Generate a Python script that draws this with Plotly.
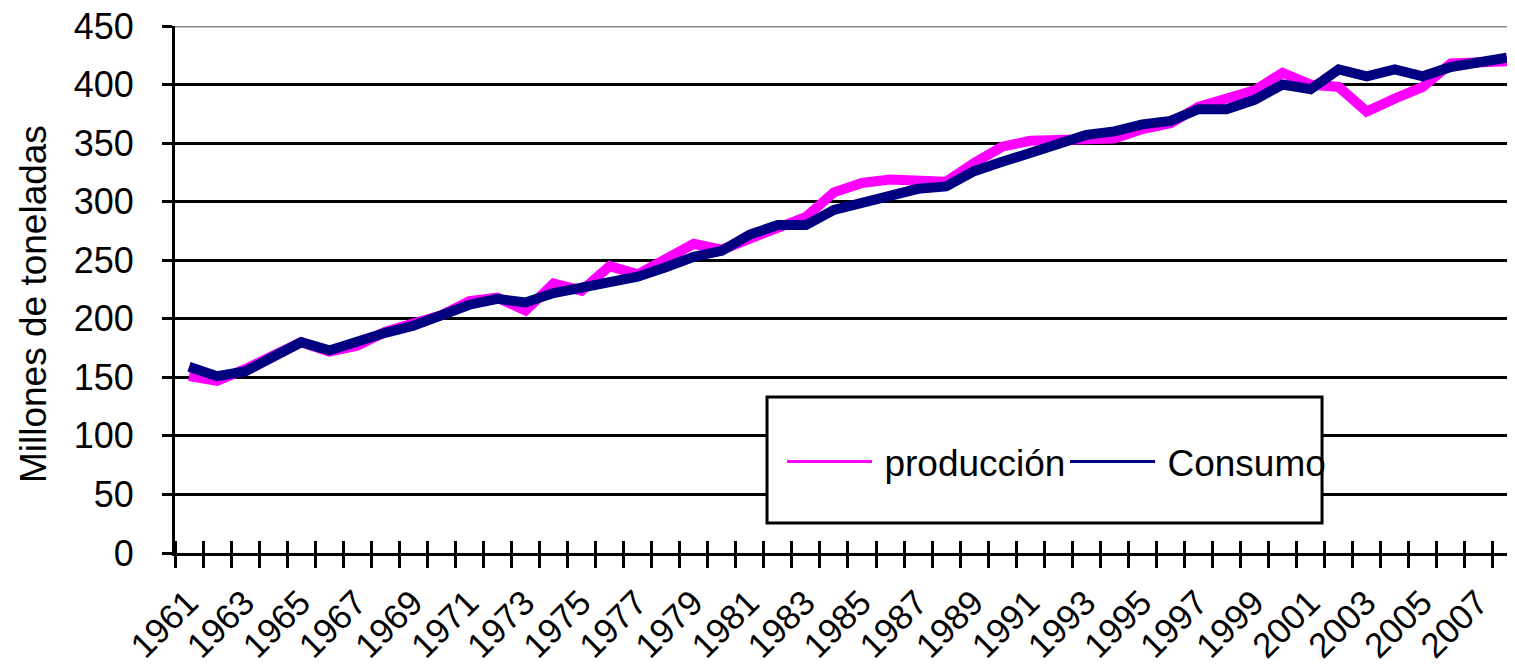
import plotly.graph_objects as go

years = list(range(1961, 2009))
produccion = [151, 147, 157, 169, 180, 172, 177, 189, 195, 203,
              215, 218, 207, 230, 224, 245, 238, 252, 264, 259,
              268, 277, 287, 308, 316, 319, 317, 317, 333, 347,
              352, 353, 353, 354, 362, 367, 381, 389, 395, 410,
              400, 398, 377, 388, 398, 418, 418, 420]
consumo = [159, 151, 155, 167, 180, 173, 181, 188, 194, 202,
           212, 217, 214, 222, 227, 233, 236, 244, 253, 258,
           272, 280, 280, 293, 299, 307, 311, 313, 326, 334,
           342, 351, 357, 360, 366, 369, 379, 379, 387, 400,
           396, 413, 407, 413, 407, 415, 418, 423]
label_years = list(range(1961, 2009, 2))
y_ticks = list(range(0, 451, 50))

MAGENTA = "#FF00FF"
NAVY = "#000080"
FONT = "Liberation Sans"

fig = go.Figure()
fig.add_trace(go.Scatter(x=years, y=produccion, mode="lines", name="producción",
                         line=dict(color=MAGENTA, width=10), showlegend=False))
fig.add_trace(go.Scatter(x=years, y=consumo, mode="lines", name="Consumo",
                         line=dict(color=NAVY, width=10), showlegend=False))
# legend samples (thin lines as in the reference legend)
fig.add_trace(go.Scatter(x=[None], y=[None], mode="lines", name="\u2009producción",
                         line=dict(color=MAGENTA, width=3)))
fig.add_trace(go.Scatter(x=[None], y=[None], mode="lines", name="\u2009Consumo",
                         line=dict(color=NAVY, width=3)))
# invisible trace on overlay axis for inner half of crossing ticks
fig.add_trace(go.Scatter(x=[None], y=[None], xaxis="x2", showlegend=False))

xr = [1960.5, 1960.5 + 1340 / 28.04]
boundaries = [y - 0.5 for y in years]

fig.update_layout(
    width=1507, height=661,
    margin=dict(l=167, r=0, t=18, b=116, autoexpand=False),
    paper_bgcolor="white", plot_bgcolor="white",
    font=dict(family=FONT, color="black"),
    xaxis=dict(
        range=xr, showgrid=False, zeroline=False, automargin=False,
        showline=True, linecolor="black", linewidth=3,
        tickmode="array", tickvals=label_years, ticktext=[str(y) for y in label_years],
        ticks="", tickangle=-45, tickfont=dict(size=35, family=FONT),
        ticklabelstandoff=12, ticklabelshift=-1, ticklabeloverflow="allow",
        minor=dict(tickmode="array", tickvals=boundaries, ticks="outside",
                   ticklen=12, tickwidth=3, tickcolor="black", showgrid=False),
    ),
    xaxis2=dict(
        range=xr, overlaying="x", anchor="y", side="bottom", showgrid=False,
        zeroline=False, showticklabels=False, ticks="", automargin=False,
        minor=dict(tickmode="array", tickvals=boundaries, ticks="inside",
                   ticklen=12, tickwidth=3, tickcolor="black", showgrid=False),
    ),
    yaxis=dict(
        range=[0, 450], tickmode="array", tickvals=y_ticks, automargin=False,
        showgrid=True, gridcolor="black", gridwidth=3, zeroline=False,
        showline=True, linecolor="black", linewidth=3,
        ticks="outside", ticklen=10, tickwidth=3, tickcolor="black",
        tickfont=dict(size=36, family=FONT), ticklabelstandoff=21,
        ticklabeloverflow="allow",
    ),
    legend=dict(
        orientation="h", x=0.453, y=0.1727, xanchor="left", yanchor="middle",
        bgcolor="rgba(0,0,0,0)", borderwidth=0,
        font=dict(size=37, family=FONT), itemwidth=85,
        entrywidth=183, entrywidthmode="pixels", tracegroupgap=0,
    ),
    annotations=[
        dict(text="Millones de toneladas", xref="paper", yref="paper",
             x=-0.1052, y=0.4725, xanchor="center", yanchor="middle",
             textangle=-90, showarrow=False, font=dict(size=37, family=FONT)),
    ],
    shapes=[
        dict(type="line", xref="paper", yref="y", x0=0, x1=1, y0=450, y1=450,
             line=dict(color="#888888", width=3), layer="above"),
        dict(type="rect", xref="paper", yref="paper", x0=0.4418, x1=0.856, y0=0.0569, y1=0.296,
             line=dict(color="black", width=3), fillcolor="white", layer="above"),
    ],
)

fig.write_html("out.html")
